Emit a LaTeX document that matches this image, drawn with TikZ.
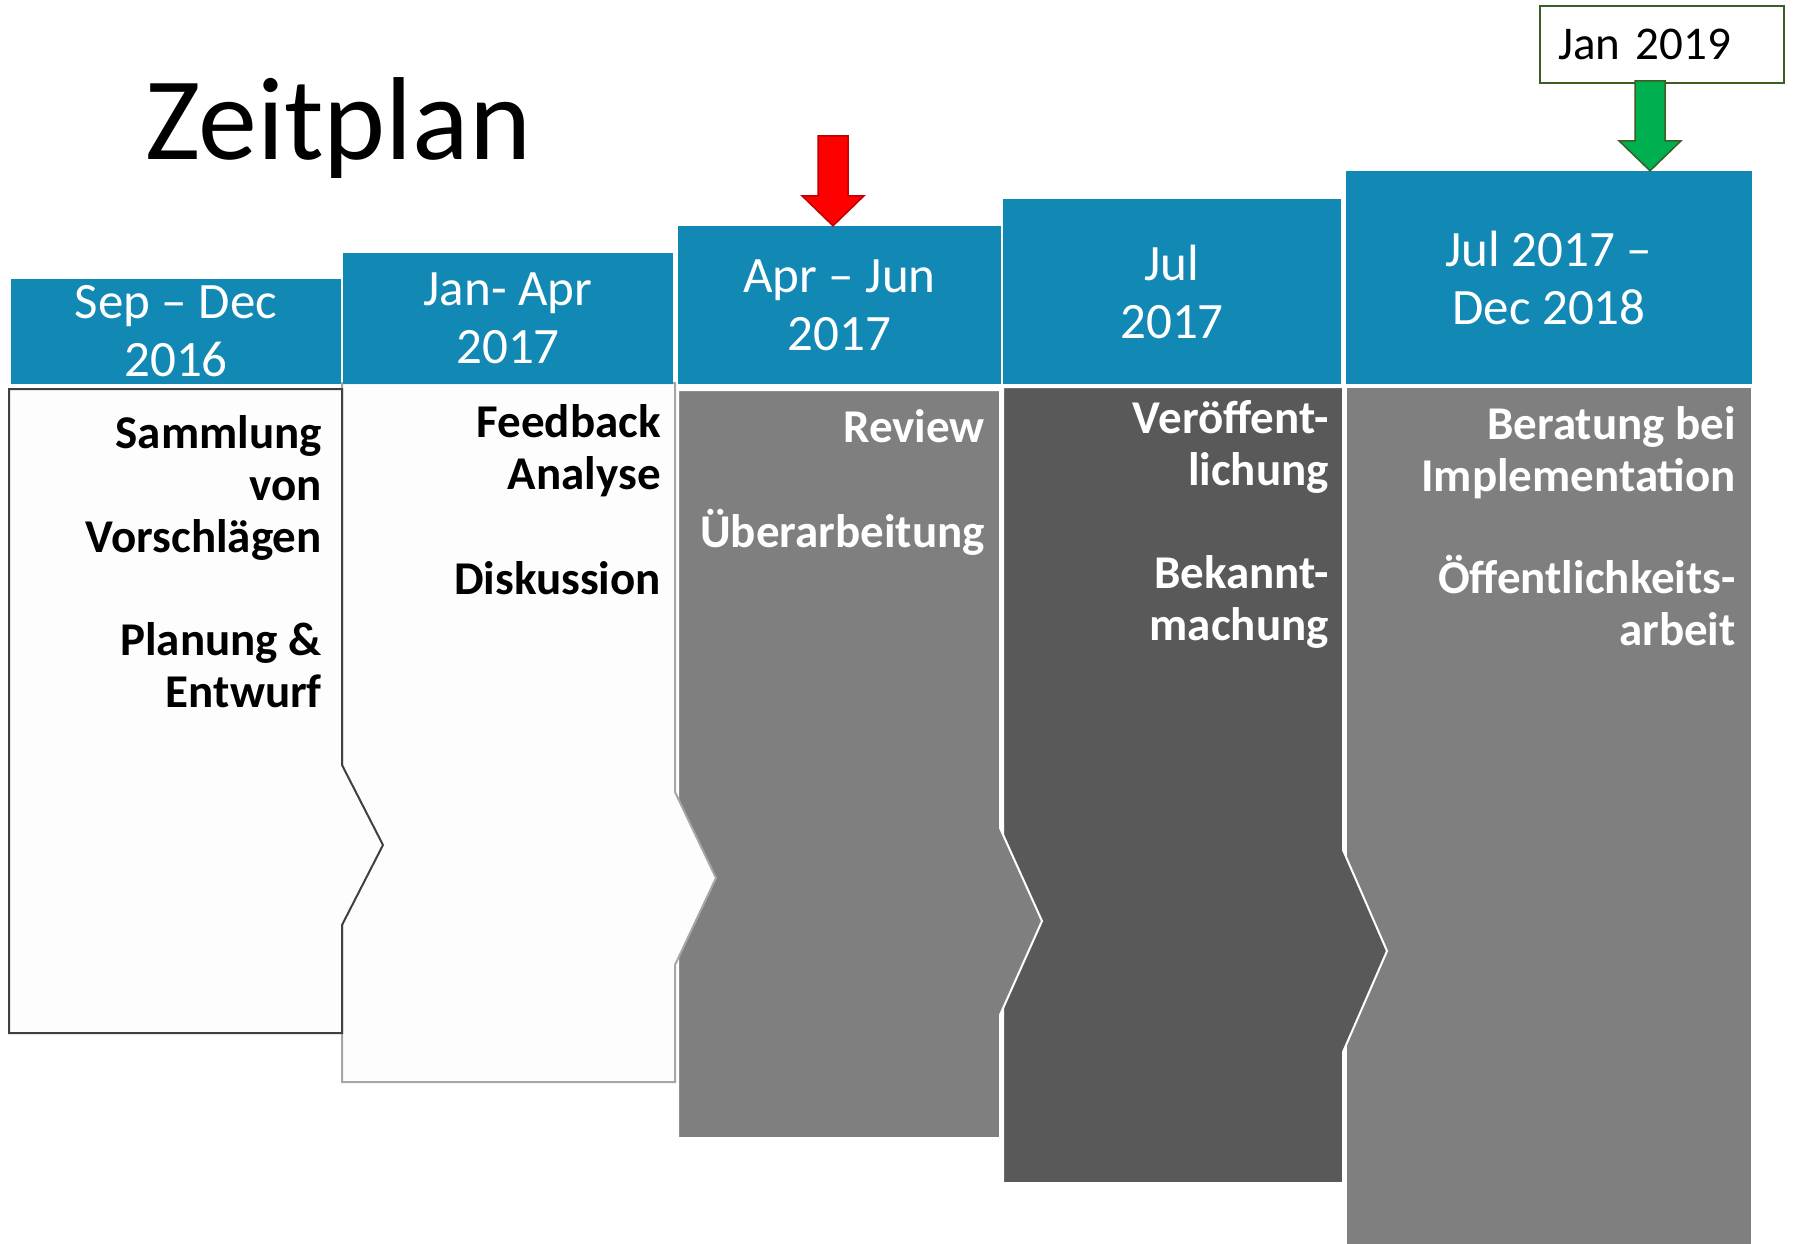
\documentclass[tikz,border=0pt]{standalone}
\usepackage{fontspec}
\setmainfont{Carlito}
\definecolor{headblue}{RGB}{18,137,181}
\definecolor{boxgray}{RGB}{127,127,127}
\definecolor{boxdark}{RGB}{89,89,89}
\definecolor{boxwhite}{RGB}{253,253,253}
\definecolor{edgegray}{RGB}{166,166,166}
\definecolor{edgedark}{RGB}{64,64,64}
\definecolor{arrowred}{RGB}{192,0,0}
\definecolor{arrowgreen}{RGB}{0,176,80}
\definecolor{edgegreen}{RGB}{59,94,34}
\tikzset{
  head/.style={fill=headblue, text=white, align=center, inner sep=0,
               font=\fontsize{51}{58}\selectfont},
  task/.style={anchor=base east, align=right, inner sep=0,
               font=\bfseries\fontsize{47}{52}\selectfont},
  fatarrow/.pic={\path[pic actions] (0,0) -- (-31,-30) -- (-15,-30) -- (-15,-90)
                 -- (15,-90) -- (15,-30) -- (31,-30) -- cycle;}
}

\begin{document}
\begin{tikzpicture}[x=1pt,y=-1pt]

    % Page
    \clip (0,0) rectangle (1793,1244);

    % Phase boxes, last one first
    \draw[fill=boxgray,draw=white,line width=2] (1346,387) -- (1752,387) -- (1752,1260) -- (1346,1260) -- cycle;
    \draw[fill=boxdark,draw=white,line width=2] (1003,387) -- (1343,387) -- (1343,850) -- (1387,951)
        -- (1343,1052) -- (1343,1183) -- (1003,1183) -- cycle;
    \draw[fill=boxgray,draw=white,line width=2] (678,390) -- (1000,390) -- (1000,828) -- (1042,921)
        -- (1000,1015) -- (1000,1138) -- (678,1138) -- cycle;
    \draw[fill=boxwhite,draw=edgegray,line width=2] (342,383) -- (675,383) -- (675,792) -- (716,878)
        -- (675,965) -- (675,1082) -- (342,1082) -- cycle;
    \draw[fill=boxwhite,draw=edgedark,line width=2] (9,389) -- (342,389) -- (342,765) -- (383,845)
        -- (342,925) -- (342,1033) -- (9,1033) -- cycle;

    % Title
    \node[anchor=base west,inner sep=0,font=\fontsize{118}{120}\selectfont] (title) at (145,160) {Zeitplan};

    % Headers
    \node[head,minimum width=330,minimum height=105] (h1) at (176,331.5) {Sep -- Dec\\2016};
    \node[head,minimum width=330,minimum height=131] (h2) at (508,318.5) {Jan- Apr\\2017};
    \node[head,minimum width=323,minimum height=158] (h3) at (839.5,305) {Apr -- Jun\\2017};
    \node[head,minimum width=338,minimum height=185] (h4) at (1172,291.5) {Jul\\2017};
    \node[head,minimum width=406,minimum height=213] (h5) at (1549,277.5) {Jul 2017 --\\Dec 2018};

    % Tasks (anchored at the last line)
    \node[task] (t1) at (322,707) {Sammlung\\von\\Vorschlägen\\[51pt]Planung \&\\Entwurf};
    \node[task] (t2) at (661,594) {Feedback\\Analyse\\[53pt]Diskussion};
    \node[task,text=white] (t3) at (985,547) {Review\\[53pt]Überarbeitung};
    \node[task,text=white] (t4) at (1329,640) {Veröffent-\\lichung\\[51pt]Bekannt-\\machung};
    \node[task,text=white] (t5) at (1736,645) {Beratung bei\\Implementation\\[50pt]Öffentlichkeits-\\arbeit};

    % Markers
    \node[draw=edgegreen,line width=2,fill=white,inner xsep=18,text width=208,align=left,
          minimum height=77,font=\fontsize{47}{56}\selectfont] (jan) at (1662,44.5) {Jan 2019};
    \pic[fill=red,draw=arrowred,line width=1.5] at ([xshift=-6.5pt]h3.north) {fatarrow};
    \pic[fill=arrowgreen,draw=edgegreen,line width=1.5] at ([xshift=-12pt]jan.south |- h5.north) {fatarrow};

\end{tikzpicture}
\end{document}
